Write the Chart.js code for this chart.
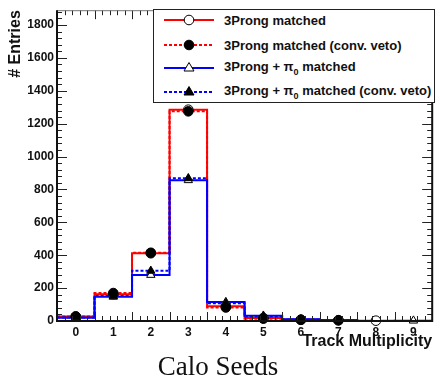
<!DOCTYPE html>
<html>
<head>
<meta charset="utf-8">
<script src="https://cdn.jsdelivr.net/npm/chart.js@4/dist/chart.umd.min.js"></script>
<style>
body { margin:0; background:#fff; }
#wrap { position:relative; width:438px; height:381px; }
#legend {
  position:absolute; left:153px; top:9px; width:282px; height:94px;
  background:#fff; border:1px solid #222; box-sizing:border-box;
  font:bold 13px "Liberation Sans", Arial, sans-serif; color:#111;
}
#legend .row { position:absolute; left:0; height:20px; display:flex; align-items:center; }
#legend svg { margin-left:10px; margin-right:10px; }
#legend sub { font-size:9px; }
</style>
</head>
<body>
<div id="wrap">
  <canvas id="c" width="438" height="381"></canvas>
  <div id="legend"></div>
</div>
<script>
// bin centres (track multiplicity) and tick labels
var bins = [0,1,2,3,4,5,6,7,8,9];
var yTicks = [0,200,400,600,800,1000,1200,1400,1600,1800];

// entries per bin
var matched     = [28, 163, 412, 1285, 90, 18, 8, 5, 2, 0];
var matchedVeto = [27, 170, 415, 1275, 82, 14, 7, 4, 0, 0];
var pi0         = [20, 147, 280, 856, 115, 32, 10, 5, 0, 2];
var pi0Veto     = [22, 152, 305, 868, 108, 28, 9, 4, 0, 0];

var legendNames = [
  '3Prong matched',
  '3Prong matched (conv. veto)',
  '3Prong + &pi;<sub>0</sub> matched',
  '3Prong + &pi;<sub>0</sub> matched (conv. veto)'
];

// histogram outline: left edge of every bin, plus the final right edge
function steps(vals)
{
  var pts = [];
  for (var i = 0; i < bins.length; i++) pts.push({x: bins[i] - 0.5, y: vals[i]});
  pts.push({x: bins[bins.length-1] + 0.5, y: vals[vals.length-1]});
  return pts;
}
// markers only for non-empty bins
function points(vals)
{
  var pts = [];
  bins.forEach(function(b, i){ if (vals[i] > 0) pts.push({x: b, y: vals[i]}); });
  return pts;
}

function histo(vals, color, dash, order)
{
  return {
    data: steps(vals), borderColor: color, borderWidth: 2, borderDash: dash,
    stepped: 'before', pointRadius: 0, fill: false, order: order, clip: 4
  };
}
function markers(vals, style, filled)
{
  return {
    data: points(vals), showLine: false, pointStyle: style, pointRadius: 4.8,
    pointBackgroundColor: filled ? '#000' : '#fff', pointBorderColor: '#000',
    pointBorderWidth: 1, order: 0, clip: 6
  };
}

// ROOT style ticks on all four sides of the frame
var frameTicks = {
  id: 'frameTicks',
  afterDraw: function(chart)
  {
    var c = chart.ctx, a = chart.chartArea;
    var xs = chart.scales.x, ys = chart.scales.y;
    c.save();
    c.strokeStyle = '#222';
    c.lineWidth = 1;
    c.beginPath();
    for (var v = 0; v <= ys.max + 0.001; v += 40) {
      var y = Math.round(ys.getPixelForValue(v)) + 0.5;
      var len = (v % 200 === 0) ? 10 : 5;
      c.moveTo(a.left, y); c.lineTo(a.left + len, y);
      c.moveTo(a.right, y); c.lineTo(a.right - len, y);
    }
    for (var k = 0; k <= 50; k++) {
      var xv = xs.min + k * 0.2;
      var x = Math.round(xs.getPixelForValue(xv)) + 0.5;
      var l2 = (k % 5 === 0) ? 9 : 5;
      c.moveTo(x, a.bottom); c.lineTo(x, a.bottom - l2);
      c.moveTo(x, a.top); c.lineTo(x, a.top + l2);
    }
    c.stroke();
    // frame
    c.strokeStyle = '#777';
    c.beginPath(); c.moveTo(a.left, a.top + 0.5); c.lineTo(a.right, a.top + 0.5); c.stroke();
    c.strokeStyle = '#111';
    c.lineWidth = 2;
    c.beginPath();
    c.moveTo(a.left, a.top); c.lineTo(a.left, a.bottom); c.lineTo(a.right, a.bottom); c.lineTo(a.right, a.top);
    c.stroke();
    c.restore();
  }
};

var tickFont = {family: '"Liberation Sans", Arial, sans-serif', size: 12, weight: 'bold'};
var titleFont = {family: '"Liberation Sans", Arial, sans-serif', size: 16, weight: 'bold', lineHeight: 1.2};

new Chart(document.getElementById('c').getContext('2d'), {
  type: 'line',
  data: {
    datasets: [
      markers(pi0Veto, 'triangle', true),
      markers(pi0, 'triangle', false),
      markers(matchedVeto, 'circle', true),
      markers(matched, 'circle', false),
      histo(pi0Veto, '#0000ff', [3, 2], 1),
      histo(pi0, '#0000ff', [], 2),
      histo(matchedVeto, '#ff0000', [3, 2], 3),
      histo(matched, '#ff0000', [], 4)
    ]
  },
  options: {
    responsive: false,
    animation: false,
    layout: {padding: {top: 9, right: 2, left: 0, bottom: 0}},
    plugins: {
      legend: {display: false},
      tooltip: {enabled: false},
      title: {
        display: true, position: 'bottom', text: 'Calo Seeds', color: '#111',
        font: {family: '"Liberation Serif", "Times New Roman", serif', size: 27, weight: 'normal', lineHeight: 1},
        padding: {top: 2.4, bottom: 0}
      }
    },
    scales: {
      x: {
        type: 'linear', min: -0.5, max: 9.5,
        grid: {display: false, drawTicks: false},
        border: {display: false},
        ticks: {font: tickFont, color: '#111', padding: 4, maxRotation: 0},
        afterBuildTicks: function(s){ s.ticks = bins.map(function(v){ return {value: v}; }); },
        afterFit: function(s){ s.height = 30.6; },
        title: {display: true, text: 'Track Multiplicity', align: 'end', color: '#111', font: titleFont, padding: 0}
      },
      y: {
        min: 0, max: 1890,
        grid: {display: false, drawTicks: false},
        border: {display: false},
        ticks: {font: tickFont, color: '#111', padding: 3, callback: function(v){ return String(v); }},
        afterBuildTicks: function(s){ s.ticks = yTicks.map(function(v){ return {value: v}; }); },
        afterFit: function(s){ s.width = 57; },
        title: {display: true, text: '# Entries', align: 'end', color: '#111', font: titleFont, padding: {top: 6, bottom: 0}}
      }
    }
  },
  plugins: [frameTicks]
});

// legend: line sample with marker, then the name
var legendStyles = [
  {color: '#ff0000', dash: '', marker: 'circle', filled: false},
  {color: '#ff0000', dash: '3,2', marker: 'circle', filled: true},
  {color: '#0000ff', dash: '', marker: 'triangle', filled: false},
  {color: '#0000ff', dash: '3,2', marker: 'triangle', filled: true}
];
var rowTops = [0, 25, 48, 72];
var lg = document.getElementById('legend');
legendStyles.forEach(function(st, i){
  var mk = st.marker === 'circle'
    ? '<circle cx="25" cy="10" r="4.8" fill="' + (st.filled ? '#000' : '#fff') + '" stroke="#000"/>'
    : '<polygon points="25,4.5 30,13 20,13" fill="' + (st.filled ? '#000' : '#fff') + '" stroke="#000"/>';
  var row = document.createElement('div');
  row.className = 'row';
  row.style.top = rowTops[i] + 'px';
  row.innerHTML = '<svg width="50" height="20"><line x1="0" y1="10" x2="50" y2="10" stroke="' + st.color +
    '" stroke-width="2" stroke-dasharray="' + st.dash + '"/>' + mk + '</svg><span>' + legendNames[i] + '</span>';
  lg.appendChild(row);
});
</script>
</body>
</html>
